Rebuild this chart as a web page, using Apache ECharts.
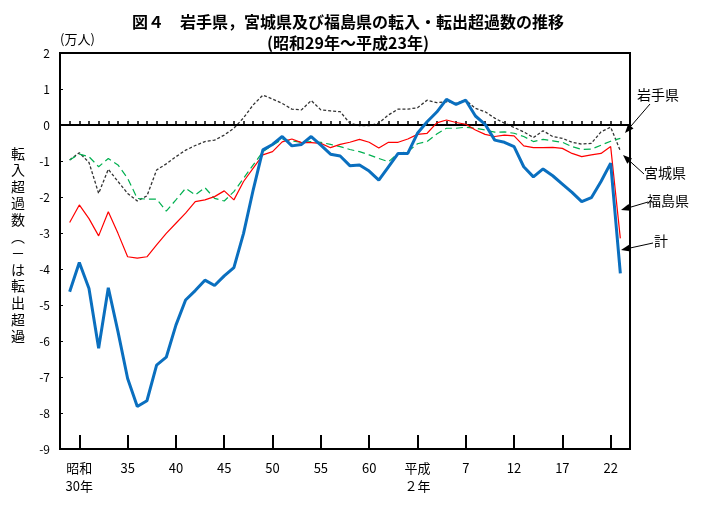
<!DOCTYPE html>
<html>
<head>
<meta charset="utf-8">
<script src="https://cdn.jsdelivr.net/npm/echarts@6/dist/echarts.min.js"></script>
<style>
html,body{margin:0;padding:0;background:#fff;}
#chart{width:702px;height:506px;}
</style>
</head>
<body>
<div id="chart"></div>
<script>
// ---- data (万人) ----
var years = [1954,1955,1956,1957,1958,1959,1960,1961,1962,1963,
             1964,1965,1966,1967,1968,1969,1970,1971,1972,1973,
             1974,1975,1976,1977,1978,1979,1980,1981,1982,1983,
             1984,1985,1986,1987,1988,1989,1990,1991,1992,1993,
             1994,1995,1996,1997,1998,1999,2000,2001,2002,2003,
             2004,2005,2006,2007,2008,2009,2010,2011];

var iwate = [-0.97,-0.77,-1.04,-1.90,-1.23,-1.57,-1.90,-2.11,-1.97,-1.25,
             -1.08,-0.88,-0.70,-0.57,-0.46,-0.42,-0.28,-0.09,0.20,0.56,
             0.83,0.72,0.60,0.44,0.42,0.68,0.42,0.39,0.37,0.05,
             -0.02,-0.02,0.05,0.28,0.44,0.44,0.48,0.69,0.62,0.65,
             0.60,0.69,0.46,0.37,0.19,0.05,-0.07,-0.19,-0.35,-0.16,
             -0.32,-0.37,-0.48,-0.53,-0.51,-0.19,-0.06,-0.72];

var miyagi = [-0.97,-0.81,-0.88,-1.16,-0.93,-1.11,-1.48,-2.04,-2.06,-2.06,
              -2.39,-2.08,-1.76,-1.94,-1.74,-2.04,-2.11,-1.85,-1.48,-1.11,
              -0.74,-0.56,-0.40,-0.44,-0.48,-0.46,-0.48,-0.54,-0.60,-0.68,
              -0.74,-0.83,-0.93,-1.02,-0.79,-0.74,-0.52,-0.46,-0.25,-0.09,
              -0.09,-0.06,-0.09,-0.14,-0.20,-0.19,-0.23,-0.32,-0.46,-0.40,
              -0.44,-0.48,-0.60,-0.68,-0.67,-0.56,-0.45,-0.37];

var fukushima = [-2.71,-2.22,-2.60,-3.08,-2.41,-3.01,-3.66,-3.70,-3.66,-3.33,
                 -3.01,-2.73,-2.45,-2.13,-2.08,-1.99,-1.83,-2.08,-1.57,-1.20,
                 -0.83,-0.74,-0.47,-0.39,-0.49,-0.49,-0.51,-0.63,-0.54,-0.48,
                 -0.40,-0.48,-0.64,-0.48,-0.48,-0.39,-0.26,-0.23,0.06,0.14,
                 0.07,0.02,-0.14,-0.26,-0.32,-0.28,-0.30,-0.58,-0.63,-0.63,
                 -0.62,-0.65,-0.79,-0.88,-0.83,-0.79,-0.60,-3.15];

var total = [-4.63,-3.82,-4.54,-6.20,-4.52,-5.74,-7.04,-7.82,-7.66,-6.67,
             -6.45,-5.56,-4.86,-4.60,-4.31,-4.46,-4.19,-3.96,-3.01,-1.80,
             -0.69,-0.54,-0.32,-0.58,-0.54,-0.32,-0.56,-0.81,-0.86,-1.13,
             -1.11,-1.28,-1.53,-1.16,-0.79,-0.79,-0.23,0.09,0.36,0.71,
             0.57,0.69,0.25,0.02,-0.42,-0.48,-0.60,-1.16,-1.44,-1.22,
             -1.41,-1.64,-1.87,-2.13,-2.02,-1.57,-1.06,-4.12];

var majorTickYears = [1955,1960,1965,1970,1975,1980,1985,1990,1995,2000,2005,2010];
var majorTickLabels = ['昭和\n30年','35','40','45','50','55','60','平成\n２年','7','12','17','22'];

var seriesNames = ['岩手県','宮城県','福島県','計'];
var yTitleChars = ['転','入','超','過','数','︵','－','は','転','出','超','過'];

// ---- build ----
function pairs(vals){ return years.map(function(y,i){ return [y, vals[i]]; }); }

var FONT = '"Noto Sans CJK JP", "Noto Sans", sans-serif';

function arrow(x1,y1,x2,y2){
  var dx = x2-x1, dy = y2-y1, len = Math.sqrt(dx*dx+dy*dy);
  var ux = dx/len, uy = dy/len, hl = 9, hw = 3.5;
  var bx = x2-ux*hl, by = y2-uy*hl;
  return [
    {type:'line', shape:{x1:x1,y1:y1,x2:bx,y2:by}, style:{stroke:'#000', lineWidth:1}, z:100},
    {type:'polygon', shape:{points:[[x2,y2],[bx-uy*hw,by+ux*hw],[bx+uy*hw,by-ux*hw]]}, style:{fill:'#000'}, z:100}
  ];
}

var graphics = [];
graphics.push({type:'text', left:11, top:145,
  style:{text: yTitleChars.join('\n'), font:'14px '+FONT, lineHeight:16.6, fill:'#000', align:'left'}});
graphics.push({type:'text', x:18, y:343,
  style:{text:'︶', font:'14px '+FONT, fill:'#000', align:'center', verticalAlign:'middle'}});
var annots = [
  {t:'岩手県', x:658, y:95,  a:[650,104,625,133]},
  {t:'宮城県', x:665, y:173, a:[644,174,623,155]},
  {t:'福島県', x:668, y:201, a:[648,202,621,210]},
  {t:'計',     x:661, y:241, a:[653,243,621,250]}
];
annots.forEach(function(o){
  graphics.push({type:'text', x:o.x, y:o.y, style:{text:o.t, font:'14px '+FONT, fill:'#000', align:'center', verticalAlign:'middle'}, z:100});
  arrow.apply(null, o.a).forEach(function(g){ graphics.push(g); });
});

var option = {
  backgroundColor:'#fff',
  animation:false,
  title:{
    text:'図４　岩手県，宮城県及び福島県の転入・転出超過数の推移\n(昭和29年～平成23年)',
    left:343, top:6, textAlign:'center',
    textStyle:{fontSize:16, fontWeight:'bold', lineHeight:21, fontFamily:FONT, color:'#000'}
  },
  grid:{left:60, right:72, top:53, bottom:57, show:true, borderColor:'#000', borderWidth:2, containLabel:false, outerBoundsMode:'none'},
  xAxis:[
    {type:'value', min:1953, max:2012, position:'bottom',
     axisLine:{show:false}, splitLine:{show:false},
     axisTick:{show:true, inside:true, length:4, customValues:years, lineStyle:{color:'#000', width:1.5}},
     axisLabel:{show:false}},
    {type:'value', min:1953, max:2012, position:'bottom',
     axisLine:{show:false}, splitLine:{show:false},
     axisTick:{show:true, inside:true, length:14, customValues:majorTickYears, lineStyle:{color:'#000', width:2}},
     axisLabel:{show:true, customValues:majorTickYears, margin:10, fontSize:13, lineHeight:18, color:'#000', fontFamily:FONT,
       formatter:function(v){ var i = majorTickYears.indexOf(v); return i>=0 ? majorTickLabels[i] : ''; }}}
  ],
  yAxis:{type:'value', min:-9, max:2, interval:1,
    name:'(万人)', nameLocation:'end', nameGap:7,
    nameTextStyle:{align:'left', fontSize:13, color:'#000', fontFamily:FONT},
    axisLine:{show:false}, splitLine:{show:false},
    axisTick:{show:true, inside:true, length:3, lineStyle:{color:'#000'}},
    axisLabel:{fontSize:12, color:'#000', margin:10, fontFamily:FONT}
  },
  series:[
    {name:seriesNames[0], type:'line', data:pairs(iwate), symbol:'none', z:3,
     lineStyle:{color:'#333', width:1.3, type:[3,2]},
     markLine:{silent:true, symbol:'none', label:{show:false}, data:[{yAxis:0}], lineStyle:{color:'#000', width:2, type:'solid'}}},
    {name:seriesNames[1], type:'line', data:pairs(miyagi), symbol:'none', z:4,
     lineStyle:{color:'#00B050', width:1.2, type:[7,4]}},
    {name:seriesNames[2], type:'line', data:pairs(fukushima), symbol:'none', z:5,
     lineStyle:{color:'#FF0000', width:1.2}},
    {name:seriesNames[3], type:'line', data:pairs(total), symbol:'none', z:6,
     lineStyle:{color:'#0A6FBF', width:3}}
  ],
  graphic: graphics
};

var chart = echarts.init(document.getElementById('chart'), null, {renderer:'canvas'});
chart.setOption(option);
</script>
</body>
</html>
